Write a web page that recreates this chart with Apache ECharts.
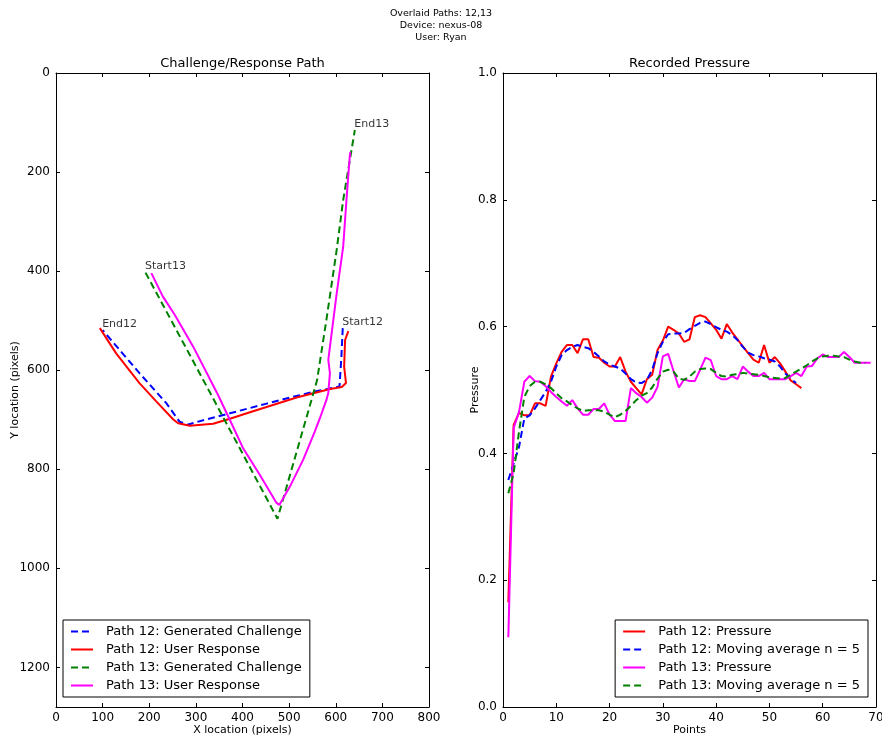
<!DOCTYPE html>
<html><head><meta charset="utf-8">
<script src="https://cdn.jsdelivr.net/npm/echarts@6/dist/echarts.min.js"></script>
<style>html,body{margin:0;padding:0;background:#fff}#c{width:882px;height:736px}</style>
</head><body><div id="c"></div>
<script>
// ---------- text ----------
const suptitleLines = ['Overlaid Paths: 12,13', 'Device: nexus-08', 'User: Ryan'];
const leftTitle = 'Challenge/Response Path';
const rightTitle = 'Recorded Pressure';

// ---------- ticks ----------
const leftXTicks = [0, 100, 200, 300, 400, 500, 600, 700, 800];
const leftYTicks = [0, 200, 400, 600, 800, 1000, 1200];
const leftYMax = 1280;
const rightXTicks = [0, 10, 20, 30, 40, 50, 60, 70];
const rightYTicks = [0.0, 0.2, 0.4, 0.6, 0.8, 1.0];

// ---------- left plot: paths (x, y in screen pixels) ----------
const path12ChallengeX = [615, 612, 608, 560, 516, 450, 373, 320, 282, 265, 237, 179, 140, 100];
const path12ChallengeY = [515, 575, 633, 642, 652, 668, 687, 700, 710, 704, 667, 606, 563, 519];
const path12ResponseX = [627, 620, 618, 622, 613, 588, 516, 416, 373, 337, 287, 262, 251, 215, 179, 129, 94];
const path12ResponseY = [521, 539, 593, 626, 634, 638, 655, 685, 698, 708, 712, 707, 699, 663, 626, 566, 515];
const path13ChallengeX = [192, 308, 475, 548, 560, 580, 602, 616, 641];
const path13ChallengeY = [403, 606, 900, 660, 620, 498, 357, 256, 115];
const path13ResponseX = [204.5, 229, 254.6, 294, 347.6, 372.7, 401, 437, 473, 479, 501.6, 530, 555, 566, 580, 584, 587.5, 584, 602, 616, 623, 630, 631];
const path13ResponseY = [404, 451, 488, 552, 650, 700, 757, 811, 868, 872, 835, 781, 724, 697, 660, 646, 606, 579, 445, 350, 256, 169, 160];

const annotationNames = ['Start12', 'End12', 'Start13', 'End13'];
const annotationX = [615, 100, 192, 641];
const annotationY = [515, 520, 403, 115];

// ---------- right plot: pressure (index = point number starting at 1) ----------
const p12Pressure = [0.165, 0.445, 0.464, 0.46, 0.46, 0.479, 0.479, 0.475, 0.521, 0.542,
  0.560, 0.571, 0.571, 0.558, 0.580, 0.580, 0.552, 0.551, 0.543, 0.537,
  0.537, 0.552, 0.529, 0.513, 0.503, 0.493, 0.517, 0.524, 0.563, 0.578,
  0.600, 0.595, 0.589, 0.576, 0.580, 0.615, 0.618, 0.615, 0.605, 0.595,
  0.581, 0.604, 0.591, 0.580, 0.569, 0.558, 0.548, 0.543, 0.571, 0.543,
  0.552, 0.542, 0.529, 0.515, 0.509, 0.503];
const p12MovingAvg = [0.358, 0.384, 0.41, 0.455, 0.46, 0.471, 0.484, 0.497, 0.513, 0.537,
  0.555, 0.563, 0.568, 0.571, 0.568, 0.566, 0.560, 0.553, 0.545, 0.540,
  0.537, 0.534, 0.526, 0.517, 0.512, 0.511, 0.516, 0.532, 0.558, 0.576,
  0.588, 0.589, 0.589, 0.590, 0.596, 0.601, 0.606, 0.608, 0.604, 0.599,
  0.595, 0.592, 0.587, 0.579, 0.568, 0.559, 0.555, 0.553, 0.550, 0.548,
  0.545, 0.537, 0.526, 0.518, 0.511];
const p13Pressure = [0.11, 0.44, 0.465, 0.513, 0.522, 0.514, 0.513, 0.506, 0.497, 0.489,
  0.482, 0.475, 0.484, 0.471, 0.461, 0.461, 0.470, 0.470, 0.479, 0.461,
  0.451, 0.451, 0.451, 0.503, 0.495, 0.489, 0.480, 0.488, 0.505, 0.553,
  0.557, 0.530, 0.504, 0.517, 0.514, 0.514, 0.532, 0.551, 0.547, 0.522,
  0.517, 0.517, 0.522, 0.517, 0.537, 0.529, 0.522, 0.522, 0.527, 0.517,
  0.517, 0.517, 0.517, 0.522, 0.527, 0.522, 0.537, 0.538, 0.550, 0.556,
  0.552, 0.552, 0.552, 0.560, 0.552, 0.543, 0.543, 0.543, 0.543];
const p13MovingAvg = [0.337, 0.369, 0.434, 0.489, 0.506, 0.513, 0.513, 0.509, 0.503, 0.495,
  0.487, 0.482, 0.476, 0.471, 0.467, 0.468, 0.468, 0.468, 0.466, 0.461,
  0.457, 0.461, 0.467, 0.475, 0.484, 0.491, 0.495, 0.504, 0.518, 0.529,
  0.532, 0.529, 0.518, 0.516, 0.521, 0.529, 0.533, 0.534, 0.533, 0.527,
  0.522, 0.521, 0.524, 0.525, 0.527, 0.526, 0.525, 0.524, 0.522, 0.520,
  0.519, 0.518, 0.519, 0.524, 0.529, 0.534, 0.539, 0.545, 0.550, 0.553,
  0.554, 0.554, 0.553, 0.552, 0.548, 0.545, 0.543, 0.543];

// ---------- build ----------
const F = 'DejaVu Sans';
const zip = (xs, ys) => xs.map((x, i) => [x, ys[i]]);
const idx = ys => ys.map((y, i) => [i + 1, y]);
const BLUE = '#0000ff', RED = '#ff0000', GREEN = '#008000', MAG = '#ff00ff';
const DASH = [7, 4];

function axisBase(extra) {
  return Object.assign({
    type: 'value',
    nameMoveOverlap: false,
    axisLine: { show: true, onZero: false, lineStyle: { color: '#000', width: 1 } },
    axisTick: { show: true, inside: true, length: 4, lineStyle: { color: '#000', width: 1 } },
    axisLabel: { color: '#000', fontSize: 12, fontFamily: F },
    splitLine: { show: false },
    nameTextStyle: { color: '#000', fontSize: 11, fontFamily: F }
  }, extra);
}
const lStep = leftXTicks[1] - leftXTicks[0];
const lyStep = leftYTicks[1] - leftYTicks[0];
const rStep = rightXTicks[1] - rightXTicks[0];
const ryStep = rightYTicks[1] - rightYTicks[0];

function lineSeries(name, data, color, dashed, xi, yi) {
  return {
    name, type: 'line', data, xAxisIndex: xi, yAxisIndex: yi,
    symbol: 'none', showSymbol: false, smooth: false, clip: true,
    lineStyle: { color, width: 2, type: dashed ? DASH : 'solid' },
    itemStyle: { color },
    emphasis: { disabled: true }, silent: true
  };
}

const legendCommon = {
  orient: 'vertical', itemWidth: 22, itemHeight: 14, itemGap: 5,
  backgroundColor: '#fff', borderColor: '#000', borderWidth: 1, borderRadius: 0,
  padding: [5, 8, 5, 7], selectedMode: false,
  itemStyle: { opacity: 0 },
  textStyle: { color: '#000', fontSize: 13, fontFamily: F, padding: [0, 0, 0, 8] }
};

const option = {
  animation: false,
  backgroundColor: '#fff',
  textStyle: { fontFamily: F },
  grid: [
    { left: 56, top: 73, width: 373, height: 634, outerBoundsMode: 'none', containLabel: false },
    { left: 503, top: 73, width: 373, height: 634, outerBoundsMode: 'none', containLabel: false }
  ],
  xAxis: [
    axisBase({ gridIndex: 0, min: leftXTicks[0], max: leftXTicks[leftXTicks.length - 1], interval: lStep,
      position: 'bottom', name: 'X location (pixels)', nameLocation: 'middle', nameGap: 18,
      axisLabel: { color: '#000', fontSize: 12, fontFamily: F, margin: 5, formatter: v => String(v) } }),
    axisBase({ gridIndex: 0, min: leftXTicks[0], max: leftXTicks[leftXTicks.length - 1], interval: lStep,
      position: 'top', axisLabel: { show: false } }),
    axisBase({ gridIndex: 1, min: rightXTicks[0], max: rightXTicks[rightXTicks.length - 1], interval: rStep,
      position: 'bottom', name: 'Points', nameLocation: 'middle', nameGap: 18,
      axisLabel: { color: '#000', fontSize: 12, fontFamily: F, margin: 5, formatter: v => String(v) } }),
    axisBase({ gridIndex: 1, min: rightXTicks[0], max: rightXTicks[rightXTicks.length - 1], interval: rStep,
      position: 'top', axisLabel: { show: false } })
  ],
  yAxis: [
    axisBase({ gridIndex: 0, inverse: true, min: leftYTicks[0], max: leftYMax, interval: lyStep,
      position: 'left', name: 'Y location (pixels)', nameLocation: 'middle', nameGap: 35, nameRotate: 90,
      axisLabel: { color: '#000', fontSize: 12, fontFamily: F, margin: 6, showMaxLabel: false, formatter: v => String(v) } }),
    axisBase({ gridIndex: 0, inverse: true, min: leftYTicks[0], max: leftYMax, interval: lyStep,
      position: 'right', axisLabel: { show: false } }),
    axisBase({ gridIndex: 1, min: rightYTicks[0], max: rightYTicks[rightYTicks.length - 1], interval: ryStep,
      position: 'left', name: 'Pressure', nameLocation: 'middle', nameGap: 22, nameRotate: 90,
      axisLabel: { color: '#000', fontSize: 12, fontFamily: F, margin: 6, formatter: v => v.toFixed(1) } }),
    axisBase({ gridIndex: 1, min: rightYTicks[0], max: rightYTicks[rightYTicks.length - 1], interval: ryStep,
      position: 'right', axisLabel: { show: false } })
  ],
  legend: [
    Object.assign({}, legendCommon, { left: 63, top: 620,
      data: ['Path 12: Generated Challenge', 'Path 12: User Response', 'Path 13: Generated Challenge', 'Path 13: User Response'] }),
    Object.assign({}, legendCommon, { right: 14, top: 620,
      data: ['Path 12: Pressure', 'Path 12: Moving average n = 5', 'Path 13: Pressure', 'Path 13: Moving average n = 5'] })
  ],
  graphic: [
    ...suptitleLines.map((t, i) => ({ type: 'text', x: 441, y: 14 + i * 12,
      style: { text: t, fill: '#000', font: '9.5px "DejaVu Sans"', align: 'center', verticalAlign: 'middle' } })),
    { type: 'text', x: 242.5, y: 64, style: { text: leftTitle, fill: '#000', font: '13px "DejaVu Sans"', align: 'center', verticalAlign: 'middle' } },
    { type: 'text', x: 689.5, y: 64, style: { text: rightTitle, fill: '#000', font: '13px "DejaVu Sans"', align: 'center', verticalAlign: 'middle' } }
  ],
  series: [
    lineSeries('Path 12: Generated Challenge', zip(path12ChallengeX, path12ChallengeY), BLUE, true, 0, 0),
    lineSeries('Path 12: User Response', zip(path12ResponseX, path12ResponseY), RED, false, 0, 0),
    lineSeries('Path 13: Generated Challenge', zip(path13ChallengeX, path13ChallengeY), GREEN, true, 0, 0),
    lineSeries('Path 13: User Response', zip(path13ResponseX, path13ResponseY), MAG, false, 0, 0),
    {
      type: 'scatter', xAxisIndex: 0, yAxisIndex: 0, symbolSize: 1, silent: true,
      itemStyle: { color: 'rgba(0,0,0,0)' },
      data: annotationNames.map((n, i) => ({ name: n, value: [annotationX[i], annotationY[i]] })),
      label: { show: true, formatter: p => p.name, position: [0, 0], align: 'left', verticalAlign: 'bottom',
        color: '#000', fontSize: 11, fontFamily: F }
    },
    lineSeries('Path 12: Pressure', idx(p12Pressure), RED, false, 2, 2),
    lineSeries('Path 12: Moving average n = 5', idx(p12MovingAvg), BLUE, true, 2, 2),
    lineSeries('Path 13: Pressure', idx(p13Pressure), MAG, false, 2, 2),
    lineSeries('Path 13: Moving average n = 5', idx(p13MovingAvg), GREEN, true, 2, 2)
  ]
};
const chart = echarts.init(document.getElementById('c'), null, { renderer: 'canvas' });
chart.setOption(option);
</script>
</body></html>
